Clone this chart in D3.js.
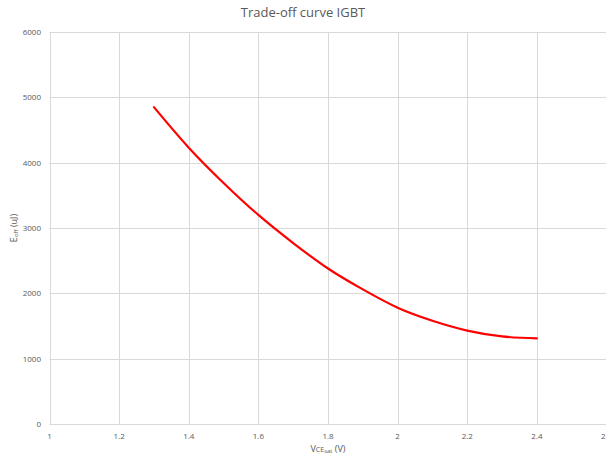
<!DOCTYPE html>
<html>
<head>
<meta charset="utf-8">
<script src="https://cdn.jsdelivr.net/npm/d3@7"></script>
<style>
  html, body { margin: 0; padding: 0; background: #fff; overflow: hidden; }
  svg { display: block; font-family: "Open Sans", "Noto Sans", sans-serif; }
</style>
</head>
<body>
<svg id="chart" width="606" height="455"></svg>
<script>
// Trade-off curve: turn-off energy vs. saturation voltage
const vceSat = [1.3, 1.4, 1.5, 1.6, 1.7, 1.8, 1.9, 2.0, 2.1, 2.2, 2.3, 2.4];
const eOff   = [4850, 4230, 3690, 3200, 2770, 2380, 2060, 1780, 1580, 1430, 1340, 1310];
const xTicks = [1, 1.2, 1.4, 1.6, 1.8, 2, 2.2, 2.4, 2.6];
const yTicks = [0, 1000, 2000, 3000, 4000, 5000, 6000];

const svg = d3.select("#chart");
const plotLeft = 49.5, plotRight = 606.5, plotTop = 32, plotBottom = 424;

const x = d3.scaleLinear().domain([1, 2.6]).range([plotLeft, plotRight]);
const y = d3.scaleLinear().domain([0, 6000]).range([plotBottom, plotTop]);

const grid = "#d9d9d9", textCol = "#595959";

// vertical grid
svg.append("g").selectAll("line").data(xTicks).join("line")
  .attr("x1", d => Math.round(x(d)) + 0.5).attr("x2", d => Math.round(x(d)) + 0.5)
  .attr("y1", plotTop).attr("y2", plotBottom)
  .attr("stroke", grid).attr("stroke-width", 1);

// horizontal grid
svg.append("g").selectAll("line").data(yTicks).join("line")
  .attr("x1", plotLeft).attr("x2", plotRight)
  .attr("y1", d => Math.round(y(d)) + 0.5).attr("y2", d => Math.round(y(d)) + 0.5)
  .attr("stroke", grid).attr("stroke-width", 1);

// tick labels
svg.append("g").selectAll("text").data(xTicks).join("text")
  .attr("x", d => x(d)).attr("y", 439)
  .attr("text-anchor", "middle")
  .attr("font-size", 8).attr("fill", textCol)
  .text(d => d3.format("")(d));

svg.append("g").selectAll("text").data(yTicks).join("text")
  .attr("x", 41).attr("y", d => y(d) + 3)
  .attr("text-anchor", "end")
  .attr("font-size", 8).attr("fill", textCol)
  .text(d => d);

// curve
const line = d3.line()
  .x((d, i) => x(vceSat[i]))
  .y(d => y(d))
  .curve(d3.curveMonotoneX);

svg.append("path")
  .datum(eOff)
  .attr("d", line)
  .attr("fill", "none")
  .attr("stroke", "#ff0000")
  .attr("stroke-width", 2.2)
  .attr("stroke-linecap", "round");

// title
svg.append("text")
  .attr("x", 303).attr("y", 17)
  .attr("text-anchor", "middle")
  .attr("font-size", 13).attr("fill", textCol)
  .text("Trade-off curve IGBT");

// x axis title
const xt = svg.append("text")
  .attr("x", 328).attr("y", 452)
  .attr("text-anchor", "middle")
  .attr("font-size", 9).attr("fill", textCol);
xt.append("tspan").text("V");
xt.append("tspan").attr("font-size", 7).text("CE");
xt.append("tspan").attr("font-size", 6).attr("dy", 1).text("sat");
xt.append("tspan").attr("dy", -1).text(" (V)");

// y axis title
const yt = svg.append("text")
  .attr("transform", "translate(17," + y(3000) + ") rotate(-90)")
  .attr("text-anchor", "middle")
  .attr("font-size", 9).attr("fill", textCol);
yt.append("tspan").text("E");
yt.append("tspan").attr("font-size", 6).attr("dy", 1).text("off");
yt.append("tspan").attr("dy", -1).text(" (uJ)");
</script>
</body>
</html>
